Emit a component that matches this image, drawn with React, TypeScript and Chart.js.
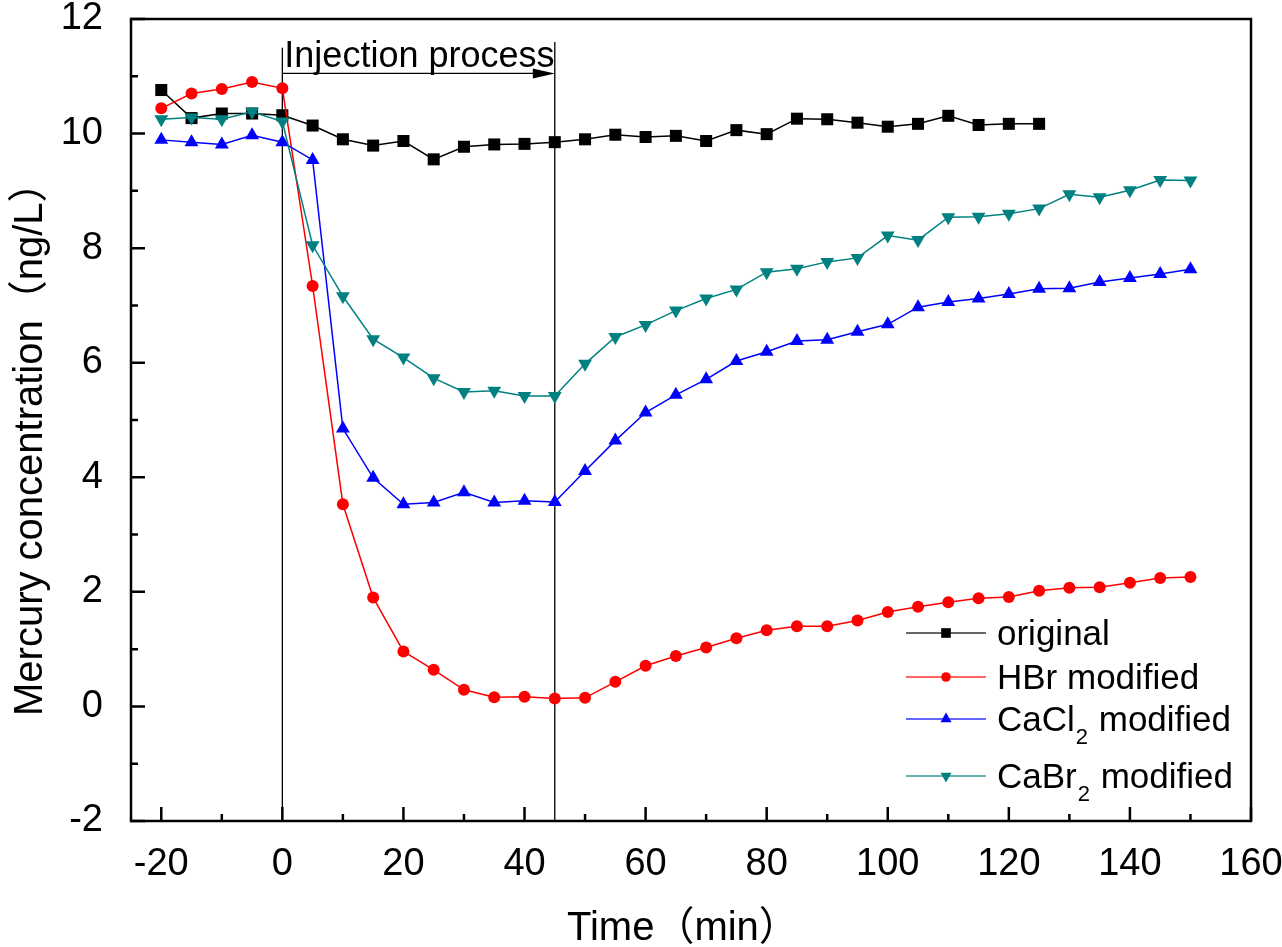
import React, { useEffect, useRef } from 'react';
import { Chart, registerables } from 'chart.js';

Chart.register(...registerables);

const FONT = '"Liberation Sans", Arial, "Noto Sans CJK SC", sans-serif';

// ---- data ----
const timeMin = [
  -20, -15, -10, -5, 0, 5, 10, 15, 20, 25, 30, 35, 40, 45, 50, 55, 60, 65, 70, 75,
  80, 85, 90, 95, 100, 105, 110, 115, 120, 125, 130, 135, 140, 145, 150,
];
const original = [
  10.76, 10.27, 10.35, 10.35, 10.32, 10.14, 9.9, 9.79, 9.87, 9.55, 9.77, 9.81, 9.82, 9.85, 9.9,
  9.98, 9.94, 9.96, 9.87, 10.06, 9.99, 10.26, 10.25, 10.19, 10.12, 10.17, 10.31, 10.15, 10.17, 10.17,
];
const hbrModified = [
  10.44, 10.7, 10.78, 10.9, 10.79, 7.34, 3.53, 1.9, 0.96, 0.64, 0.29, 0.16, 0.17, 0.14, 0.15,
  0.43, 0.71, 0.88, 1.03, 1.19, 1.33, 1.4, 1.4, 1.5, 1.65, 1.74, 1.82, 1.89, 1.91, 2.02,
  2.07, 2.08, 2.16, 2.24, 2.26,
];
const cacl2Modified = [
  9.89, 9.85, 9.81, 9.97, 9.85, 9.54, 4.85, 3.99, 3.53, 3.56, 3.74, 3.56, 3.59, 3.57, 4.11,
  4.64, 5.13, 5.44, 5.71, 6.03, 6.19, 6.38, 6.4, 6.54, 6.67, 6.97, 7.06, 7.12, 7.2, 7.29,
  7.3, 7.41, 7.48, 7.55, 7.63,
];
const cabr2Modified = [
  10.25, 10.28, 10.25, 10.38, 10.21, 8.05, 7.16, 6.41, 6.09, 5.73, 5.49, 5.51, 5.42, 5.42, 5.98,
  6.45, 6.66, 6.91, 7.12, 7.28, 7.58, 7.64, 7.76, 7.83, 8.22, 8.14, 8.54, 8.55, 8.6, 8.69,
  8.94, 8.89, 9.01, 9.19, 9.18,
];
const seriesLabels = ['original', 'HBr modified', 'CaCl₂ modified', 'CaBr₂ modified'];

const xTicks = [-20, 0, 20, 40, 60, 80, 100, 120, 140, 160];
const xMinorTicks = [-10, 10, 30, 50, 70, 90, 110, 130, 150];
const yTicks = [-2, 0, 2, 4, 6, 8, 10, 12];
const yMinorTicks = [-1, 1, 3, 5, 7, 9, 11];

const xTitle = 'Time（min）';
const yTitle = 'Mercury concentration（ng/L）';

const injectionStart = 0;
const injectionEnd = 45;
const injectionLabel = 'Injection process';

const pts = (vals: number[]) => vals.map((v, i) => ({ x: timeMin[i], y: v }));

// ---- plugins ----
function drawMarker(ctx: CanvasRenderingContext2D, style: string, x: number, y: number, r: number, rot: number, color: string) {
  ctx.fillStyle = color;
  ctx.beginPath();
  if (style === 'rect') {
    const s = r * Math.SQRT1_2;
    ctx.rect(x - s, y - s, 2 * s, 2 * s);
  } else if (style === 'circle') {
    ctx.arc(x, y, r, 0, Math.PI * 2);
  } else {
    let a = (rot * Math.PI) / 180;
    ctx.moveTo(x + Math.sin(a) * r, y - Math.cos(a) * r);
    a += (2 * Math.PI) / 3;
    ctx.lineTo(x + Math.sin(a) * r, y - Math.cos(a) * r);
    a += (2 * Math.PI) / 3;
    ctx.lineTo(x + Math.sin(a) * r, y - Math.cos(a) * r);
    ctx.closePath();
  }
  ctx.fill();
}

const SUBS = '₀₁₂₃₄₅₆₇₈₉';

function drawRichText(ctx: CanvasRenderingContext2D, text: string, x: number, y: number) {
  let cx = x;
  for (const ch of text) {
    const si = SUBS.indexOf(ch);
    if (si >= 0) {
      ctx.font = `22px ${FONT}`;
      ctx.fillText(String(si), cx + 1, y + 13);
      cx += ctx.measureText(String(si)).width + 2;
    } else {
      ctx.font = `35px ${FONT}`;
      ctx.fillText(ch, cx, y);
      cx += ctx.measureText(ch).width;
    }
  }
}

const legendPlugin = {
  id: 'customLegend',
  afterDraw(chart: any) {
    const { ctx, chartArea: a } = chart;
    const rowOffsets = [-188, -144, -102, -45];
    ctx.save();
    ctx.textBaseline = 'alphabetic';
    ctx.textAlign = 'left';
    chart.data.datasets.forEach((ds: any, i: number) => {
      const y = a.bottom + rowOffsets[i];
      ctx.strokeStyle = ds.borderColor;
      ctx.globalAlpha = 0.8;
      ctx.lineWidth = 1.5;
      ctx.beginPath();
      ctx.moveTo(a.right - 345, y);
      ctx.lineTo(a.right - 265, y);
      ctx.stroke();
      ctx.globalAlpha = 1;
      drawMarker(ctx, ds.pointStyle, a.right - 305, y, ds.pointRadius * 0.8, ds.rotation || 0, ds.borderColor);
      ctx.fillStyle = '#000';
      drawRichText(ctx, ds.label, a.right - 254, y + 12);
    });
    ctx.restore();
  },
};

const framePlugin = {
  id: 'frameTicks',
  afterDraw(chart: any) {
    const { ctx, chartArea: a, scales } = chart;
    const xs = scales.x;
    const ys = scales.y;
    ctx.save();
    ctx.strokeStyle = '#000';
    ctx.lineWidth = 2.5;
    ctx.strokeRect(a.left, a.top, a.right - a.left, a.bottom - a.top);
    ctx.beginPath();
    xTicks.forEach((v) => {
      const p = xs.getPixelForValue(v);
      ctx.moveTo(p, a.bottom);
      ctx.lineTo(p, a.bottom - 14);
    });
    xMinorTicks.forEach((v) => {
      const p = xs.getPixelForValue(v);
      ctx.moveTo(p, a.bottom);
      ctx.lineTo(p, a.bottom - 7);
    });
    yTicks.forEach((v) => {
      const p = ys.getPixelForValue(v);
      ctx.moveTo(a.left, p);
      ctx.lineTo(a.left + 14, p);
    });
    yMinorTicks.forEach((v) => {
      const p = ys.getPixelForValue(v);
      ctx.moveTo(a.left, p);
      ctx.lineTo(a.left + 7, p);
    });
    ctx.stroke();

    // axis titles
    ctx.fillStyle = '#000';
    ctx.font = `40px ${FONT}`;
    ctx.textAlign = 'left';
    ctx.textBaseline = 'alphabetic';
    ctx.fillText(xTitle, a.left + 436, a.bottom + 119);
    ctx.translate(a.left - 89, a.bottom - 105);
    ctx.rotate(-Math.PI / 2);
    ctx.fillText(yTitle, 0, 0);
    ctx.restore();
  },
};

const annotationPlugin = {
  id: 'injection',
  beforeDatasetsDraw(chart: any) {
    const { ctx, chartArea: a, scales } = chart;
    const xs = scales.x;
    const ys = scales.y;
    const x0 = xs.getPixelForValue(injectionStart);
    const x1 = xs.getPixelForValue(injectionEnd);
    ctx.save();
    ctx.strokeStyle = '#000';
    ctx.lineWidth = 1.3;
    ctx.beginPath();
    ctx.moveTo(x0, ys.getPixelForValue(11.5));
    ctx.lineTo(x0, a.bottom);
    ctx.moveTo(x1, ys.getPixelForValue(11.6));
    ctx.lineTo(x1, a.bottom);
    const ay = ys.getPixelForValue(11.05);
    ctx.moveTo(x0, ay);
    ctx.lineTo(x1 - 18, ay);
    ctx.stroke();
    ctx.fillStyle = '#000';
    ctx.beginPath();
    ctx.moveTo(x1, ay);
    ctx.lineTo(x1 - 22, ay - 5);
    ctx.lineTo(x1 - 22, ay + 5);
    ctx.closePath();
    ctx.fill();
    ctx.font = `36px ${FONT}`;
    ctx.textAlign = 'left';
    ctx.textBaseline = 'alphabetic';
    ctx.fillText(injectionLabel, x0 + 2, ys.getPixelForValue(11.17));
    ctx.restore();
  },
};

export default function App() {
  const ref = useRef<HTMLCanvasElement | null>(null);
  useEffect(() => {
    if (!ref.current) return;
    const colors = ['#000000', '#FF0000', '#0000FF', '#008080'];
    const styles = ['rect', 'circle', 'triangle', 'triangle'];
    const radii = [8.5, 6, 8, 8];
    const rotations = [0, 0, 0, 180];
    const series = [original, hbrModified, cacl2Modified, cabr2Modified];
    const chart = new Chart(ref.current, {
      type: 'line',
      data: {
        datasets: series.map((s, i) => ({
          label: seriesLabels[i],
          data: pts(s),
          borderColor: colors[i],
          backgroundColor: colors[i],
          pointBackgroundColor: colors[i],
          pointBorderColor: colors[i],
          pointBorderWidth: 0,
          pointStyle: styles[i] as any,
          pointRadius: radii[i],
          rotation: rotations[i],
          pointRotation: rotations[i],
          borderWidth: 1.5,
          tension: 0,
          fill: false,
          order: 4 - i,
        })) as any,
      },
      options: {
        responsive: false,
        animation: false,
        devicePixelRatio: 1,
        layout: { padding: { top: 19, right: 31, left: 0, bottom: 0 } },
        plugins: { legend: { display: false }, tooltip: { enabled: false } },
        scales: {
          x: {
            type: 'linear',
            min: -25,
            max: 160,
            grid: { display: false },
            border: { display: false },
            afterBuildTicks: (s: any) => {
              s.ticks = xTicks.map((v) => ({ value: v }));
            },
            afterFit: (s: any) => {
              s.height = 126;
              s.paddingLeft = 0;
              s.paddingRight = 0;
            },
            ticks: {
              color: '#000',
              font: { family: FONT, size: 38 },
              padding: 13,
              maxRotation: 0,
              autoSkip: false,
              callback: (v: any) => String(v),
            },
            title: { display: false },
          },
          y: {
            type: 'linear',
            min: -2,
            max: 12,
            grid: { display: false },
            border: { display: false },
            afterBuildTicks: (s: any) => {
              s.ticks = yTicks.map((v) => ({ value: v }));
            },
            afterFit: (s: any) => {
              s.width = 131;
              s.paddingTop = 0;
              s.paddingBottom = 0;
            },
            ticks: {
              color: '#000',
              font: { family: FONT, size: 38 },
              padding: 20,
              autoSkip: false,
              callback: (v: any) => String(v),
            },
            title: { display: false },
          },
        },
      },
      plugins: [annotationPlugin, framePlugin, legendPlugin],
    } as any);
    return () => chart.destroy();
  }, []);
  return (
    <div style={{ position: 'absolute', left: 0, top: 0 }}>
      <canvas ref={ref} width={1282} height={947} style={{ display: 'block' }} />
    </div>
  );
}
